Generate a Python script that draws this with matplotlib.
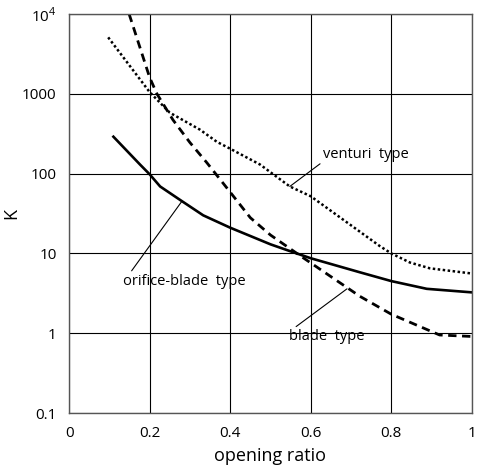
import matplotlib
matplotlib.use("Agg")
import matplotlib.pyplot as plt

# loss coefficient K against opening ratio for three damper types
orifice_x = [0.11, 0.176, 0.2, 0.226, 0.275, 0.333, 0.4, 0.5, 0.548, 0.6, 0.722, 0.8,
             0.888, 1.0]
orifice_k = [290, 130, 98, 69, 47, 30, 21, 13, 10.7, 8.7, 5.8, 4.5, 3.6, 3.25]

blade_x = [0.149, 0.2, 0.218, 0.258, 0.30, 0.342, 0.395, 0.45, 0.5, 0.58, 0.722, 0.8,
           0.92, 1.0]
blade_k = [10000, 1600, 1000, 470, 245, 137, 63, 28, 17, 8.9, 2.9, 1.73, 0.95, 0.91]

venturi_x = [0.097, 0.2, 0.25, 0.325, 0.367, 0.4, 0.474, 0.548, 0.6, 0.772, 0.8,
             0.846, 0.896, 1.0]
venturi_k = [5100, 1050, 580, 355, 250, 205, 130, 69, 52, 12.3, 10, 7.7, 6.5, 5.6]

x_ticks = [0, 0.2, 0.4, 0.6, 0.8, 1]
x_labels = ["0", "0.2", "0.4", "0.6", "0.8", "1"]
y_ticks = [0.1, 1, 10, 100, 1000, 10000]
y_labels = ["0.1", "1", "10", "100", "1000", "10$^4$"]

plt.rcParams["font.family"] = ["Open Sans", "DejaVu Sans"]
plt.rcParams["mathtext.fontset"] = "custom"
plt.rcParams["mathtext.rm"] = "Open Sans"

fig = plt.figure(figsize=(4.8, 4.67), dpi=100)
ax = fig.add_axes([0.144, 0.1156, 0.839, 0.8544])

ax.plot(orifice_x, orifice_k, color="black", lw=1.9)
ax.plot(blade_x, blade_k, color="black", lw=2.0, linestyle=(0, (3, 2)))
ax.plot(venturi_x, venturi_k, color="black", lw=1.8, linestyle=(0, (1, 1)),
        dash_capstyle="butt")

ax.set_yscale("log")
ax.set_xlim(0, 1)
ax.set_ylim(0.1, 10000)
ax.set_xticks(x_ticks)
ax.set_xticklabels(x_labels)
ax.set_yticks(y_ticks)
ax.set_yticklabels(y_labels)
ax.minorticks_off()
ax.tick_params(length=0, labelsize=11, pad=9)
ax.grid(True, color="black", lw=0.8)
for s in ax.spines.values():
    s.set_color("#555555")
    s.set_linewidth(1.0)

ax.set_xlabel("opening ratio", fontsize=13, labelpad=5)
ax.set_ylabel("K", fontsize=13)
ax.yaxis.set_label_coords(-0.122, 0.5)

# leader lines and labels
ax.annotate("venturi  type", xy=(0.548, 69), xytext=(0.63, 175),
            fontsize=10.5, va="center", ha="left",
            arrowprops=dict(arrowstyle="-", color="black", lw=0.8,
                            shrinkA=0, shrinkB=0, relpos=(0, 0)))
ax.annotate("orifice-blade  type", xy=(0.28, 45), xytext=(0.135, 4.5),
            fontsize=10.5, va="center", ha="left",
            arrowprops=dict(arrowstyle="-", color="black", lw=0.8,
                            shrinkA=0, shrinkB=0, relpos=(0.05, 1.0)))
ax.annotate("blade  type", xy=(0.69, 3.6), xytext=(0.545, 0.9),
            fontsize=10.5, va="center", ha="left",
            arrowprops=dict(arrowstyle="-", color="black", lw=0.8,
                            shrinkA=0, shrinkB=0, relpos=(0.05, 1.0)))

fig.savefig("out.png", dpi=100)
